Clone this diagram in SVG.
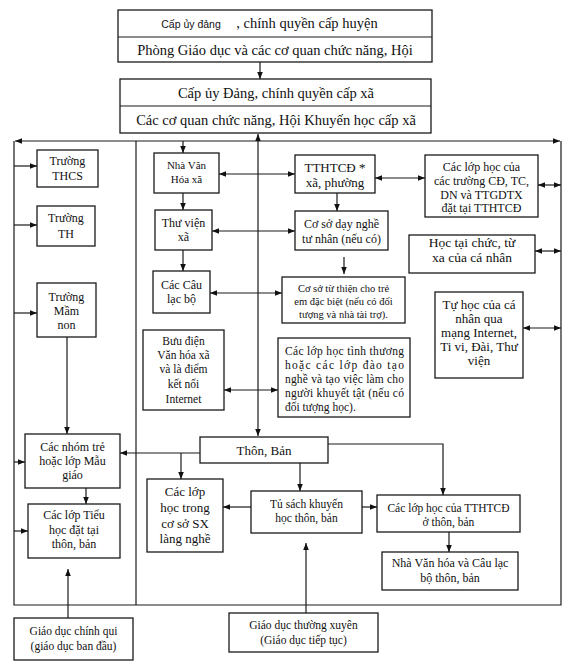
<svg xmlns="http://www.w3.org/2000/svg" width="574" height="665" viewBox="0 0 574 665">
<style>
.b{fill:#fff;stroke:#1a1a1a;stroke-width:1.3}
.c{fill:none;stroke:#1a1a1a;stroke-width:1.2}
.t{font-family:"Liberation Serif","Times New Roman",serif;fill:#111;text-anchor:middle}
.s{font-family:"Liberation Sans",Arial,sans-serif}
.f10{font-size:10.5px}.f11{font-size:11px}.f115{font-size:11.5px}.f12{font-size:12px}.f13{font-size:13px}.f135{font-size:13.5px}.f14{font-size:14.5px}
</style>
<defs>
<marker id="ah" viewBox="0 0 10 10" refX="10" refY="5" markerWidth="7" markerHeight="7" orient="auto-start-reverse" markerUnits="userSpaceOnUse"><path d="M0,1 L10,5 L0,9 z" fill="#111"/></marker>
</defs>
<rect width="574" height="665" fill="#fff"/>
<g id="connectors">
<path class="c" d="M260,62 V79" marker-end="url(#ah)"/>
<path class="c" d="M258,134 V436" marker-start="url(#ah)" marker-end="url(#ah)"/>
<path class="c" d="M258,141 H15" marker-end="url(#ah)"/>
<path class="c" d="M258,141 H560" marker-end="url(#ah)"/>
<path class="c" d="M14,141 V605 H561 V141"/>
<path class="c" d="M136,141 V605"/>
<path class="c" d="M14,166 H37" marker-end="url(#ah)"/>
<path class="c" d="M14,225 H37" marker-end="url(#ah)"/>
<path class="c" d="M14,313 H37" marker-end="url(#ah)"/>
<path class="c" d="M14,462 H25" marker-end="url(#ah)"/>
<path class="c" d="M14,531 H28" marker-end="url(#ah)"/>
<path class="c" d="M67,337 V434" marker-end="url(#ah)"/>
<path class="c" d="M86,488 V504" marker-end="url(#ah)"/>
<path class="c" d="M68,618 V569" marker-end="url(#ah)"/>
<path class="c" d="M183,141 V153" marker-end="url(#ah)"/>
<path class="c" d="M183,193 V210" marker-end="url(#ah)"/>
<path class="c" d="M183,250 V271" marker-end="url(#ah)"/>
<path class="c" d="M219,174 H295" marker-start="url(#ah)" marker-end="url(#ah)"/>
<path class="c" d="M212,231 H295" marker-start="url(#ah)" marker-end="url(#ah)"/>
<path class="c" d="M210,293 H282" marker-start="url(#ah)" marker-end="url(#ah)"/>
<path class="c" d="M224,390 H278" marker-start="url(#ah)" marker-end="url(#ah)"/>
<path class="c" d="M337,193 V211" marker-end="url(#ah)"/>
<path class="c" d="M344,257 V274" marker-end="url(#ah)"/>
<path class="c" d="M375,178 H425" marker-start="url(#ah)" marker-end="url(#ah)"/>
<path class="c" d="M538,185 H561" marker-start="url(#ah)" marker-end="url(#ah)"/>
<path class="c" d="M535,251 H561" marker-start="url(#ah)" marker-end="url(#ah)"/>
<path class="c" d="M523,328 H561" marker-start="url(#ah)" marker-end="url(#ah)"/>
<path class="c" d="M200,453 H120" marker-end="url(#ah)"/>
<path class="c" d="M181,453 V479" marker-end="url(#ah)"/>
<path class="c" d="M300,463 V491" marker-end="url(#ah)"/>
<path class="c" d="M328,444 H443 V495" marker-end="url(#ah)"/>
<path class="c" d="M251,507 H223" marker-end="url(#ah)"/>
<path class="c" d="M362,507 H377" marker-end="url(#ah)"/>
<path class="c" d="M449,532 V552" marker-end="url(#ah)"/>
<path class="c" d="M306,613 V543" marker-end="url(#ah)"/>
</g>
<g id="n-huyen">
<rect class="b" x="118" y="10" width="314" height="52"/>
<line class="c" x1="118" y1="37" x2="432" y2="37"/>
<text class="t f14" y="28"><tspan class="s" x="191" font-size="10.5">Cấp ủy đảng</tspan><tspan x="307">, chính quyền cấp huyện</tspan></text>
<text class="t f14" x="275" y="55">Phòng Giáo dục và các cơ quan chức năng, Hội</text>
</g>
<g id="n-xa">
<rect class="b" x="120" y="79" width="311" height="54"/>
<line class="c" x1="120" y1="106" x2="431" y2="106"/>
<text class="t f14" x="276" y="98">Cấp ủy Đảng, chính quyền cấp xã</text>
<text class="t f14" x="276" y="125">Các cơ quan chức năng, Hội Khuyến học cấp xã</text>
</g>
<g id="n-thcs">
<rect class="b" x="37" y="150" width="61" height="37"/>
<text class="t f12" x="67.5" y="165">Trường</text><text class="t f12" x="67.5" y="180">THCS</text>
</g>
<g id="n-th">
<rect class="b" x="37" y="206" width="58" height="40"/>
<text class="t f12" x="66" y="222">Trường</text><text class="t f12" x="66" y="238">TH</text>
</g>
<g id="n-mamnon">
<rect class="b" x="37" y="283" width="59" height="54"/>
<text class="t f12" x="66.5" y="301">Trường</text><text class="t f12" x="66.5" y="315">Mầm</text><text class="t f12" x="66.5" y="329">non</text>
</g>
<g id="n-nhomtre">
<rect class="b" x="25" y="434" width="95" height="54"/>
<text class="t f12" x="72.5" y="451">Các nhóm trẻ</text><text class="t f12" x="72.5" y="465">hoặc lớp Mẫu</text><text class="t f12" x="72.5" y="479">giáo</text>
</g>
<g id="n-tieuhoc">
<rect class="b" x="28" y="504" width="92" height="54"/>
<text class="t f12" x="74" y="519">Các lớp Tiểu</text><text class="t f12" x="74" y="534">học đặt tại</text><text class="t f12" x="74" y="548">thôn, bản</text>
</g>
<g id="n-nhavh">
<rect class="b" x="154" y="153" width="65" height="40"/>
<text class="t f11" x="186.5" y="169">Nhà Văn</text><text class="t f11" x="186.5" y="183">Hóa xã</text>
</g>
<g id="n-thuvien">
<rect class="b" x="155" y="210" width="57" height="40"/>
<text class="t f12" x="183.5" y="227">Thư  viện</text><text class="t f12" x="183.5" y="241">xã</text>
</g>
<g id="n-clb">
<rect class="b" x="153" y="271" width="57" height="42"/>
<text class="t f12" x="181.5" y="289">Các Câu</text><text class="t f12" x="181.5" y="303">lạc bộ</text>
</g>
<g id="n-tthtcd">
<rect class="b" x="295" y="155" width="80" height="38"/>
<text class="t f13" x="335" y="172">TTHTCĐ *</text><text class="t f13" x="335" y="187">xã, phường</text>
</g>
<g id="n-daynghe">
<rect class="b" x="295" y="211" width="93" height="39"/>
<text class="t f12" x="341.5" y="228">Cơ sở dạy nghề</text><text class="t f12" x="341.5" y="243">tư nhân (nếu có)</text>
</g>
<g id="n-tuthien">
<rect class="b" x="282" y="277" width="123" height="46"/>
<text class="t f10" x="343.5" y="292">Cơ sở từ thiện cho trẻ</text><text class="t f10" x="343.5" y="305">em đặc biệt (nếu có đối</text><text class="t f10" x="343.5" y="318">tượng và nhà tài trợ).</text>
</g>
<g id="n-buudien">
<rect class="b" x="143" y="330" width="81" height="80"/>
<text class="t f115" x="183.5" y="345">Bưu điện</text><text class="t f115" x="183.5" y="359">Văn hóa xã</text><text class="t f115" x="183.5" y="373">và là điểm</text><text class="t f115" x="183.5" y="388">kết nối</text><text class="t f115" x="183.5" y="403">Internet</text>
</g>
<g id="n-tinhthuong">
<rect class="b" x="278" y="338" width="132" height="79"/>
<g class="t f115">
<text x="285" y="355" textLength="119" lengthAdjust="spacing" style="text-anchor:start">Các lớp học tình thương</text>
<text x="285" y="369" textLength="119" lengthAdjust="spacing" style="text-anchor:start">hoặc các lớp đào tạo</text>
<text x="285" y="383" textLength="119" lengthAdjust="spacing" style="text-anchor:start">nghề và tạo việc làm cho</text>
<text x="285" y="397" textLength="119" lengthAdjust="spacing" style="text-anchor:start">người khuyết tật (nếu có</text>
<text x="285" y="411" style="text-anchor:start">đối tượng học).</text>
</g>
</g>
<g id="n-cacloptruong">
<rect class="b" x="425" y="155" width="113" height="62"/>
<text class="t f12" x="481.5" y="171">Các lớp học của</text><text class="t f12" x="481.5" y="185">các trường CĐ, TC,</text><text class="t f12" x="481.5" y="199">DN và TTGDTX</text><text class="t f12" x="481.5" y="212">đặt tại TTHTCĐ</text>
</g>
<g id="n-taichuc">
<rect class="b" x="409" y="235" width="126" height="38"/>
<text class="t f135" x="472" y="247">Học tại chức, từ</text><text class="t f135" x="472" y="262">xa của cá nhân</text>
</g>
<g id="n-tuhoc">
<rect class="b" x="435" y="292" width="88" height="86"/>
<text class="t f13" x="479" y="309">Tự học của cá</text><text class="t f13" x="479" y="323">nhân qua</text><text class="t f13" x="479" y="337">mạng Internet,</text><text class="t f13" x="479" y="351">Ti vi, Đài, Thư</text><text class="t f13" x="479" y="365">viện</text>
</g>
<g id="n-thonban">
<rect class="b" x="200" y="437" width="128" height="26"/>
<text class="t f13" x="264" y="455">Thôn, Bản</text>
</g>
<g id="n-langnghe">
<rect class="b" x="147" y="479" width="76" height="73"/>
<text class="t f13" x="185" y="496">Các lớp</text><text class="t f13" x="185" y="512">học trong</text><text class="t f13" x="185" y="528">cơ sở SX</text><text class="t f13" x="185" y="543">làng nghề</text>
</g>
<g id="n-tusach">
<rect class="b" x="251" y="491" width="111" height="42"/>
<text class="t f115" x="306.5" y="508">Tủ sách khuyến</text><text class="t f115" x="306.5" y="522">học  thôn, bản</text>
</g>
<g id="n-lophocthon">
<rect class="b" x="377" y="495" width="143" height="37"/>
<text class="t f115" x="448.5" y="512">Các lớp học của TTHTCĐ</text><text class="t f115" x="448.5" y="526">ở thôn, bản</text>
</g>
<g id="n-nhavhthon">
<rect class="b" x="382" y="552" width="136" height="38"/>
<text class="t f12" x="450" y="567">Nhà Văn hóa và Câu lạc</text><text class="t f12" x="450" y="582">bộ thôn, bản</text>
</g>
<g id="n-chinhqui">
<rect class="b" x="14" y="618" width="119" height="42"/>
<text class="t f115" x="73.5" y="635">Giáo dục chính qui</text><text class="t f115" x="73.5" y="650">(giáo dục ban đầu)</text>
</g>
<g id="n-thuongxuyen">
<rect class="b" x="229" y="613" width="149" height="39"/>
<text class="t f115" x="303.5" y="629">Giáo dục thường xuyên</text><text class="t f115" x="303.5" y="644">(Giáo dục tiếp tục)</text>
</g>
</svg>
